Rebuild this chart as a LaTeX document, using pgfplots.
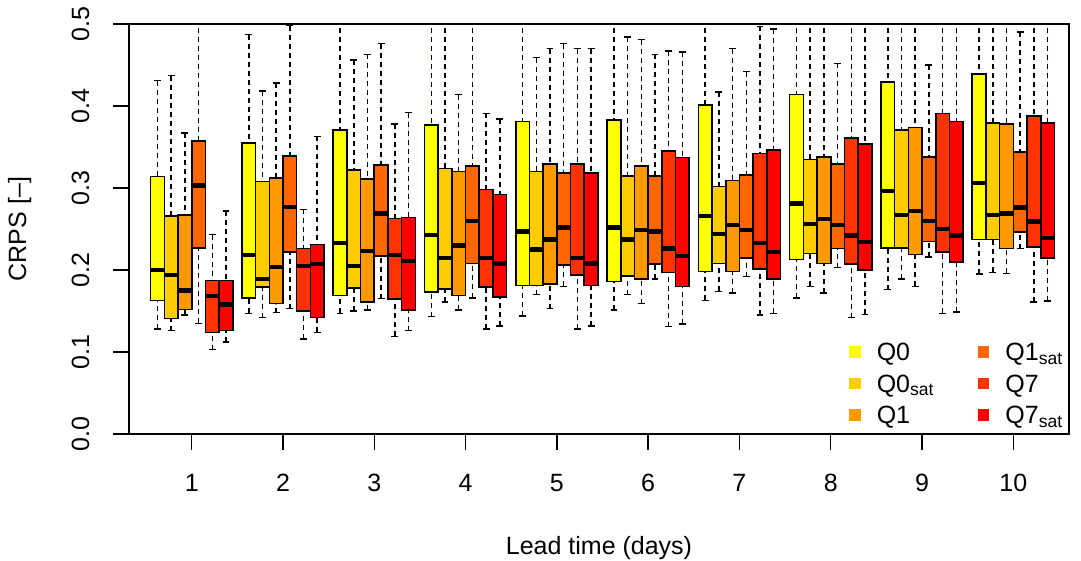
\documentclass[border=0pt]{standalone}
\usepackage{fontspec}
\setmainfont{Liberation Sans}
\usepackage{pgfplots}
\usepackage{pgfplotstable}
\usepgfplotslibrary{statistics}
\pgfplotsset{compat=1.18}

\definecolor{cQa}{HTML}{FFFF00}
\definecolor{cQb}{HTML}{FFCC00}
\definecolor{cQc}{HTML}{FF9900}
\definecolor{cQd}{HTML}{FF6600}
\definecolor{cQe}{HTML}{FF3300}
\definecolor{cQf}{HTML}{FF0000}

% one row per lead time (1..10); 0.55 = whisker beyond the plot top
\pgfplotstableread{
lw lq med uq uw
0.128 0.163 0.200 0.314 0.431
0.147 0.166 0.218 0.355 0.487
0.147 0.169 0.233 0.371 0.55
0.143 0.173 0.243 0.377 0.55
0.144 0.181 0.247 0.381 0.55
0.151 0.186 0.252 0.383 0.55
0.163 0.198 0.266 0.401 0.55
0.166 0.213 0.281 0.414 0.55
0.176 0.227 0.296 0.429 0.55
0.195 0.237 0.306 0.439 0.55
}\Qa
\pgfplotstableread{
lw lq med uq uw
0.126 0.141 0.194 0.266 0.437
0.142 0.179 0.189 0.308 0.418
0.150 0.178 0.205 0.322 0.456
0.161 0.177 0.215 0.324 0.55
0.170 0.181 0.225 0.320 0.459
0.170 0.193 0.237 0.315 0.484
0.174 0.208 0.244 0.302 0.417
0.180 0.220 0.256 0.335 0.55
0.189 0.227 0.267 0.371 0.55
0.197 0.237 0.267 0.379 0.55
}\Qb
\pgfplotstableread{
lw lq med uq uw
0.145 0.152 0.175 0.267 0.367
0.148 0.159 0.204 0.312 0.428
0.151 0.161 0.223 0.311 0.463
0.151 0.169 0.230 0.320 0.414
0.153 0.183 0.237 0.329 0.470
0.159 0.189 0.249 0.327 0.481
0.172 0.198 0.255 0.309 0.470
0.172 0.208 0.262 0.338 0.55
0.180 0.219 0.272 0.374 0.55
0.196 0.226 0.269 0.378 0.55
}\Qc
\pgfplotstableread{
lw lq med uq uw
0.135 0.227 0.303 0.357 0.55
0.153 0.222 0.277 0.339 0.498
0.165 0.217 0.269 0.328 0.476
0.166 0.208 0.260 0.327 0.55
0.180 0.206 0.252 0.318 0.476
0.189 0.207 0.247 0.315 0.463
0.192 0.215 0.249 0.316 0.442
0.203 0.226 0.255 0.329 0.452
0.216 0.235 0.260 0.338 0.450
0.226 0.246 0.276 0.344 0.490
}\Qd
\pgfplotstableread{
lw lq med uq uw
0.103 0.124 0.168 0.187 0.243
0.116 0.150 0.205 0.226 0.274
0.119 0.165 0.218 0.263 0.378
0.128 0.179 0.215 0.298 0.391
0.128 0.194 0.215 0.329 0.470
0.131 0.197 0.226 0.345 0.467
0.145 0.201 0.233 0.342 0.497
0.142 0.207 0.242 0.361 0.55
0.147 0.222 0.250 0.391 0.55
0.161 0.228 0.259 0.388 0.55
}\Qe
\pgfplotstableread{
lw lq med uq uw
0.112 0.126 0.158 0.187 0.272
0.124 0.142 0.207 0.231 0.363
0.126 0.151 0.211 0.264 0.392
0.132 0.167 0.208 0.292 0.384
0.132 0.181 0.208 0.318 0.470
0.134 0.180 0.217 0.337 0.466
0.147 0.189 0.222 0.346 0.494
0.146 0.200 0.234 0.354 0.55
0.149 0.210 0.242 0.381 0.55
0.162 0.215 0.239 0.379 0.55
}\Qf

% dashed whisker, solid staple
\pgfplotsset{
  boxplot/draw/lower whisker/.code={%
    \draw[/pgfplots/boxplot/every whisker/.try, dash pattern=on 2.5pt off 2pt]
      (boxplot cs:\pgfplotsboxplotvalue{lower whisker})
      -- (boxplot cs:\pgfplotsboxplotvalue{lower quartile});
    \draw[/pgfplots/boxplot/every whisker/.try, solid]
      (boxplot whisker cs:\pgfplotsboxplotvalue{lower whisker},0)
      -- (boxplot whisker cs:\pgfplotsboxplotvalue{lower whisker},1);
  },
  boxplot/draw/upper whisker/.code={%
    \draw[/pgfplots/boxplot/every whisker/.try, dash pattern=on 2.5pt off 2pt]
      (boxplot cs:\pgfplotsboxplotvalue{upper whisker})
      -- (boxplot cs:\pgfplotsboxplotvalue{upper quartile});
    \draw[/pgfplots/boxplot/every whisker/.try, solid]
      (boxplot whisker cs:\pgfplotsboxplotvalue{upper whisker},0)
      -- (boxplot whisker cs:\pgfplotsboxplotvalue{upper whisker},1);
  },
  crps/.style={forget plot, draw=black, line width=0.8pt, fill=#1,
    boxplot/every whisker/.style={line width=0.75pt},
    boxplot/every median/.style={line width=2.2pt, black}},
}

% \bxp{colour}{table}{row}{x position}
\newcommand\bxp[4]{%
  \pgfplotstablegetelem{#3}{lw}\of#2\edef\vlw{\pgfplotsretval}%
  \pgfplotstablegetelem{#3}{lq}\of#2\edef\vlq{\pgfplotsretval}%
  \pgfplotstablegetelem{#3}{med}\of#2\edef\vmed{\pgfplotsretval}%
  \pgfplotstablegetelem{#3}{uq}\of#2\edef\vuq{\pgfplotsretval}%
  \pgfplotstablegetelem{#3}{uw}\of#2\edef\vuw{\pgfplotsretval}%
  \edef\tmp{\noexpand\addplot[crps=#1, boxplot prepared={draw direction=y,
    draw position=#4,
    lower whisker=\vlw, lower quartile=\vlq, median=\vmed,
    upper quartile=\vuq, upper whisker=\vuw,
    box extend=0.15, whisker extend=0.075}] coordinates {};}%
  \tmp}

\begin{document}
\fontsize{12.5}{15}\selectfont
\begin{tikzpicture}
\begin{axis}[
    at={(0,0)}, anchor=south west,
    scale only axis, width=470pt, height=205pt,
    xmin=0.313, xmax=10.61, ymin=0, ymax=0.5,
    xtick={1,...,10}, ytick={0,0.1,0.2,0.3,0.4,0.5},
    tick pos=left, tick align=outside, major tick length=8pt,
    tick style={black, line width=0.7pt},
    axis line style={line width=0.7pt},
    /pgf/number format/assume math mode=true,
    yticklabel style={rotate=90, anchor=base,
      /pgf/number format/fixed, /pgf/number format/fixed zerofill,
      /pgf/number format/precision=1},
    xticklabel style={anchor=base},
    xticklabel shift=20.9pt, yticklabel shift=12pt,
    xlabel={Lead time (days)}, ylabel={CRPS [--]},
    xlabel style={at={(axis description cs:0.5,-0.2951)}, anchor=base},
    ylabel style={at={(axis description cs:-0.1163,0.5)}, anchor=center},
    legend image code/.code={\fill[#1, draw=none] (0pt,-2.9pt) rectangle (5.8pt,2.9pt);},
    legend columns=2, legend cell align=left,
    legend style={at={(axis description cs:0.7657,0.2232)}, anchor=north west,
      draw=none, fill=none, inner sep=0pt, row sep=6.75pt,
      nodes={inner sep=0pt, text height=9pt, text depth=0pt},
      /tikz/every odd column/.append style={column sep=8pt},
      /tikz/every even column/.append style={column sep=21.7pt}},
]
\pgfplotsinvokeforeach{0,...,9}{
  \bxp{cQa}{\Qa}{#1}{#1+0.625}
  \bxp{cQb}{\Qb}{#1}{#1+0.775}
  \bxp{cQc}{\Qc}{#1}{#1+0.925}
  \bxp{cQd}{\Qd}{#1}{#1+1.075}
  \bxp{cQe}{\Qe}{#1}{#1+1.225}
  \bxp{cQf}{\Qf}{#1}{#1+1.375}
}
\addlegendimage{fill=cQa}\addlegendentry{Q0}
\addlegendimage{fill=cQd}\addlegendentry{Q1\textsubscript{sat}}
\addlegendimage{fill=cQb}\addlegendentry{Q0\textsubscript{sat}}
\addlegendimage{fill=cQe}\addlegendentry{Q7}
\addlegendimage{fill=cQc}\addlegendentry{Q1}
\addlegendimage{fill=cQf}\addlegendentry{Q7\textsubscript{sat}}
\end{axis}
\pgfresetboundingbox
\path (-64.5pt,-63.5pt) rectangle (476pt,217pt);
\end{tikzpicture}
\end{document}
